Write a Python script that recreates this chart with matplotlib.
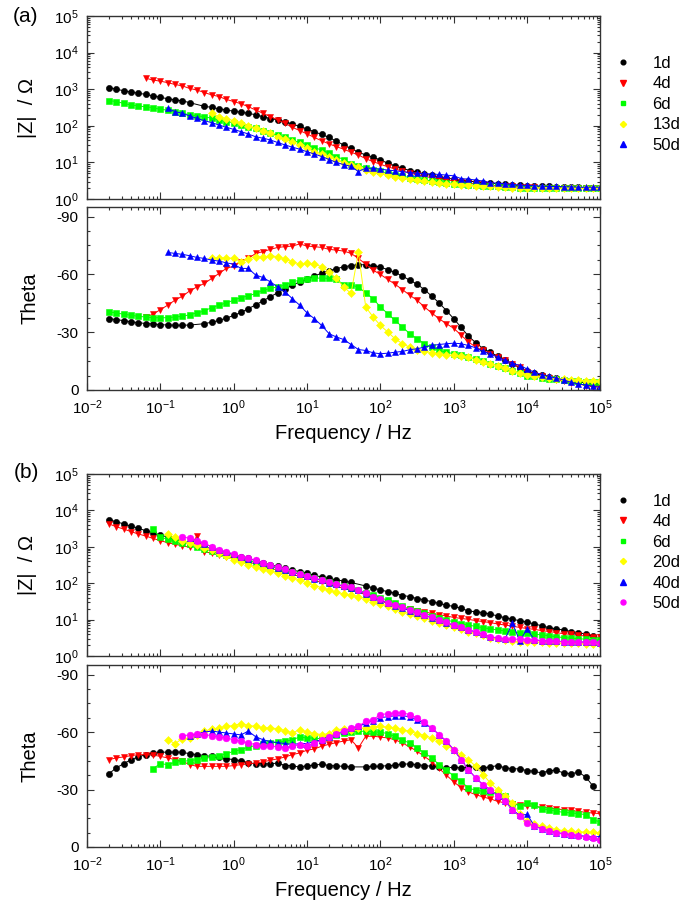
import numpy as np
import matplotlib
matplotlib.use("Agg")
import matplotlib.pyplot as plt
from matplotlib.lines import Line2D
from matplotlib.ticker import LogLocator, MultipleLocator, NullFormatter, FixedLocator

plt.rcParams['font.family'] = ['Liberation Sans', 'DejaVu Sans']
plt.rcParams['axes.unicode_minus'] = False
plt.rcParams['mathtext.fontset'] = 'custom'
plt.rcParams['mathtext.rm'] = 'Liberation Sans'

# measurement frequencies (Hz)
freq = [0.02, 0.0251, 0.0316, 0.0398, 0.0501, 0.0631, 0.0794,
        0.1, 0.126, 0.158, 0.2, 0.251, 0.316, 0.398, 0.501, 0.631, 0.794,
        1, 1.26, 1.58, 2.0, 2.51, 3.16, 3.98, 5.01, 6.31, 7.94,
        10, 12.6, 15.8, 20, 25.1, 31.6, 39.8, 50.1, 63.1, 79.4,
        100, 126, 158, 200, 251, 316, 398, 501, 631, 794,
        1000, 1260, 1580, 2000, 2510, 3160, 3980, 5010, 6310, 7940,
        1e4, 12600, 15800, 20000, 25100, 31600, 39800, 50100, 63100, 79400,
        1e5]

# ---- panel (a): |Z| in ohm ----
labels_a = ['1d', '4d', '6d', '13d', '50d']
za_1d = [1100, 1000, 910, 830, 780, 720, 660, 600, 550, 510,
         480, 430, None, 340, 320, 290, 270, 250, 235, 220,
         200, 178, 158, 145, 129, 112, 96, 82, 69, 58,
         48, 38, 30, 24, 19, 16, 13.8, 11.7, 9.5, 8.1,
         6.9, 6.0, 5.4, 4.8, 4.4, 4.0, 3.7, 3.5, 3.2, 3.1,
         2.95, 2.8, 2.7, 2.6, 2.5, 2.4, 2.35, 2.3, 2.25, 2.2,
         2.2, 2.15, 2.15, 2.1, 2.1, 2.05, 2.05, 2.05]
za_4d = [None] * 5 + [2000, 1780, 1660, 1510, 1350,
         1230, 1050, 950, 810, 700, 630, 525, 460, 400, 333,
         270, 220, 178, 145, 117, 91, 74, 60, 48, 39,
         32, 27, 23, 19, 16, 12.6, 10.5, 8.9, 7.6, 6.6,
         5.8, 5.1, 4.6, 4.2, 3.8, 3.5, 3.3, 3.1, 2.9, 2.75,
         2.6, 2.5, 2.4, 2.3, 2.25, 2.2, 2.15, 2.1, 2.1, 2.05,
         2.05, 2.0, 2.0, 2.0, 1.95, 1.95, 1.95, 1.95]
za_6d = [490, 460, 410, 370, 350, 330, 315, 280, 270, 245,
         220, 200, 186, 178, 160, 145, 129, 122, 105, 95,
         85, 74, 62, 56, 48, 41, 35, 30, 25, 22,
         17.8, 14.5, 12, 9.3, 8.2, 7.2, 6.4, 5.7, 5.1, 4.6,
         4.2, 3.85, 3.55, 3.3, 3.1, 2.95, 2.8, 2.65, 2.55, 2.45,
         2.35, 2.3, 2.25, 2.2, 2.15, 2.1, 2.05, 2.0, 2.0, 2.0,
         2.0, 2.0, 2.0, 2.0, 2.0, 2.0, 2.0, 2.0]
za_13d = [None] * 14 + [220, 178, 155, 138, 117, 100,
          85, 72, 62, 50, 43, 35, 29, 24, 19.5, 17,
          14.5, 11.7, 9.8, 8.5, 7.6, 6.4, 5.6, 5.0, 4.5, 4.1,
          3.8, 3.5, 3.3, 3.1, 2.9, 2.8, 2.65, 2.55, 2.45, 2.4,
          2.3, 2.25, 2.2, 2.15, 2.1, 2.05, 2.0, 2.0, 2.0, 2.0,
          1.95, 1.95, 1.95, 1.95, 1.95, 1.95, 1.95, 1.95]
za_50d = [None] * 8 + [300, 245,
          220, 186, 160, 138, 122, 105, 91, 80, 69, 60,
          50, 46, 41, 35, 30, 26, 23, 19.5, 17, 14.5,
          12, 10, 8.7, 7.8, 5.6, 7.0, 6.9, 6.5, 6.2, 5.9,
          5.6, 5.3, 5.0, 5.0, 4.8, 4.7, 4.5, 4.3, 3.6, 3.5,
          3.3, 3.1, 2.8, 2.7, 2.6, 2.5, 2.4, 2.35, 2.3, 2.25,
          2.2, 2.2, 2.15, 2.15, 2.1, 2.1, 2.1, 2.1]

# ---- panel (a): phase angle (deg) ----
ta_1d = [-37.0, -36.5, -36.0, -35.4, -34.9, -34.5, -34.2, -33.9, -33.7, -33.6,
         -33.6, -33.7, None, -34.4, -35.2, -36.1, -37.3, -38.7, -40.3, -42.2,
         -44.2, -46.3, -48.4, -50.5, -52.5, -54.4, -56.1, -57.7, -59.2, -60.6,
         -61.9, -63.0, -63.9, -64.6, -65.0, -65.0, -64.6, -63.8, -62.5, -61.0,
         -59.1, -57.0, -54.9, -52.1, -48.7, -45.2, -41.2, -37.0, -32.5, -28.0,
         -24.5, -21.5, -19.5, -17.5, -15.5, -13.5, -11.5, -9.8, -8.6, -7.6,
         -6.8, -6.0, -5.3, -4.7, -4.2, -3.7, -3.3, -3.0]
ta_4d = [None] * 5 + [-38.0, -39.3, -41.7, -44.0, -46.6,
         -48.7, -51.4, -53.5, -55.3, -57.9, -60.5, -63.1, -64.3, -66.6, -68.3,
         -70.9, -71.8, -73.0, -74.0, -74.4, -74.7, -75.8, -74.7, -74.4, -74.0,
         -73.0, -72.6, -72.1, -70.9, -68.3, -65.3, -62.2, -60.0, -57.4, -54.9,
         -52.1, -49.2, -46.6, -43.1, -40.0, -37.0, -34.4, -32.0, -28.5, -25.0,
         -22.2, -20.5, -18.8, -17.0, -15.3, -13.6, -11.8, -9.2, -8.0, -7.0,
         -6.1, -5.2, -4.5, -3.6, -3.1, -2.3, -1.7, -1.4]
ta_6d = [-40.5, -40.0, -39.3, -38.8, -38.2, -37.9, -37.5, -37.5, -37.5, -37.9,
         -38.2, -39.1, -40.0, -41.0, -42.8, -44.0, -45.2, -46.6, -48.0, -48.8,
         -50.1, -51.8, -52.7, -53.5, -54.4, -56.1, -57.0, -57.4, -57.9, -58.2,
         -57.9, -57.4, -54.7, -54.4, -53.5, -50.4, -47.4, -43.1, -39.6, -36.1,
         -32.7, -29.2, -26.6, -24.0, -22.2, -20.5, -19.6, -18.8, -17.9, -17.0,
         -16.2, -14.9, -13.6, -12.7, -11.5, -10.1, -8.7, -7.5, -7.0, -6.4,
         -5.9, -5.6, -5.2, -4.9, -4.5, -4.3, -4.2, -4.0]
ta_13d = [None] * 14 + [-68.3, -68.6, -68.6, -68.3, -66.6, -68.0,
          -69.2, -68.8, -69.7, -69.2, -68.0, -66.6, -65.3, -65.7, -65.3, -64.0,
          -61.3, -57.9, -53.5, -50.1, -71.4, -43.1, -37.9, -33.5, -30.1, -26.6,
          -24.0, -22.2, -20.9, -20.0, -19.3, -18.8, -18.2, -17.9, -17.6, -17.0,
          -15.6, -14.4, -13.6, -12.7, -11.5, -10.1, -8.7, -8.0, -7.3, -6.8,
          -6.3, -5.9, -5.6, -5.2, -5.0, -4.9, -4.7, -4.5]
ta_50d = [None] * 8 + [-71.4, -70.9,
          -70.4, -69.7, -68.8, -68.3, -67.4, -66.9, -66.0, -65.3, -63.1, -63.1,
          -59.6, -58.4, -56.1, -53.5, -50.9, -47.4, -44.0, -40.0, -37.0, -33.5,
          -29.2, -27.5, -26.2, -23.6, -21.0, -20.5, -19.3, -18.8, -19.1, -19.6,
          -20.0, -20.9, -21.4, -22.2, -23.1, -23.6, -24.0, -24.3, -24.0, -23.1,
          -21.9, -20.0, -18.8, -17.0, -15.3, -13.9, -12.7, -10.9, -9.2, -8.0,
          -7.0, -6.1, -5.2, -4.0, -3.1, -2.6, -1.9, -1.4]

# ---- panel (b): |Z| in ohm ----
labels_b = ['1d', '4d', '6d', '20d', '40d', '50d']
zb_1d = [5500, 4900, 4270, 3700, 3240, 2780, 2450, 2100, 1860, 1660,
         1480, 1290, 1150, 1000, 890, 780, 690, 600, 540, 480,
         420, 370, 320, 290, 257, 229, 209, 186, 166, 148,
         135, 124, 115, 105, None, 84, 75, 65, 59, 53,
         46, 43, 38, 35, 31, 28, 25, 23, 20.5, 17.3,
         16.4, 15.6, 14.2, 12.6, 11.3, 10.2, 9.4, 8.5, 7.6, 6.8,
         6.0, 5.5, 5.2, 4.7, 4.4, 4.0, 3.6, None]
zb_4d = [4270, 3550, 3090, 2620, 2250, 1990, 1700, 1480, 1300, 1170,
         1070, 970, 2000, 740, 665, 600, 540, 480, 435, 380,
         340, 295, 257, 229, 200, 174, 155, 135, 120, 105,
         93, 82, 73, 64, 60, 47, 39, 33, 28, 24,
         21, 19, 17.6, 16.3, 14.9, 13.7, 12.6, 11.5, 10.8, 10.2,
         9.4, 8.8, 8.3, 7.6, 7.1, 6.6, 6.1, 5.7, 5.4, 5.0,
         4.7, 4.4, 4.1, 3.95, 3.7, 3.55, 3.4, 3.25]
zb_6d = [None] * 6 + [3000, 1820, 1630, 1470,
         1300, 1170, 970, 850, 760, 670, 600, 535, 475, 420,
         375, 330, 290, 258, 228, 200, 176, 155, 137, 120,
         106, 94, 83, 73, 64, 55, 47, 40, 34, 29,
         23, 19.8, 17.2, 15, 12.8, 11, 9.8, 8.7, 7.8, 7.1,
         6.5, 6.0, 5.6, 5.2, 4.9, 4.6, 4.4, 4.2, 4.0, 3.8,
         3.6, 3.4, 3.2, 3.1, 3.0, 2.9, 2.8, 2.7]
zb_20d = [None] * 8 + [2200, 1820,
          1480, 1300, 1100, 930, 800, 680, 560, 435, 390, 316,
          275, 240, 220, 186, 162, 137, 124, 100, 86, 76,
          65, 56, 51, 47, 43, 37, 31, 27, 23, 19.5,
          16.6, 14.2, 12.6, 10.8, 9.4, 8.3, 7.1, 6.2, 5.4, 4.7,
          4.2, 3.8, 3.1, 2.9, 2.75, 2.6, 2.5, 2.45, 2.4, 2.4,
          2.35, 2.3, 2.3, 2.25, 2.25, 2.2, 2.2, 2.2]
zb_40d = [None] * 11 + [1750, 1500, 1230, 1000, 800, 730, 620, 530, 470,
          425, 350, 310, 270, 235, 205, 176, 155, 134, 121,
          104, 93, 82, 75, 64, 52, 42, 35, 28.5, 24,
          21, 17.8, 15.2, 13, 11.2, 9.5, 8.2, 7.0, 6.1, 5.2,
          4.6, 4.0, 3.4, 3.1, 2.95, 8.0, 2.6, 5.5, 2.75, 2.65,
          2.6, 2.55, 2.5, 2.45, 2.45, 2.4, 2.4, 2.35]
zb_50d = [None] * 10 + [1900, 1700, 1480, 1250, 1000, 810, 740, 630, 540, 480,
          435, 355, 317, 275, 240, 210, 180, 158, 137, 124,
          106, 95, 84, 77, 65, 53, 43, 36, 29.5, 25,
          22, 18.4, 15.8, 13.4, 11.6, 9.8, 8.4, 7.1, 6.2, 5.2,
          4.7, 4.0, 3.4, 3.1, 2.95, 2.9, 2.9, 2.8, 2.75, 2.65,
          2.6, 2.55, 2.5, 2.45, 2.45, 2.4, 2.4, 2.35]

# ---- panel (b): phase angle (deg) ----
tb_1d = [-38.3, -41.3, -43.5, -45.6, -47.0, -48.2, -49.1, -49.6, -49.4, -49.6,
         -49.4, -48.7, -48.2, -47.7, -47.3, -46.8, -46.1, -45.6, -45.1, -43.9,
         -43.5, -43.5, -43.3, -43.9, -42.5, -42.5, -41.6, -42.5, -42.6, -43.3,
         -42.5, -42.3, -42.1, -41.8, None, -41.8, -42.1, -42.1, -42.5, -42.6,
         -43.3, -43.3, -43.0, -42.5, -42.1, -41.8, -41.3, -41.6, -41.3, -41.8,
         -41.8, -41.3, -41.8, -42.5, -41.3, -40.9, -40.7, -39.9, -39.5, -38.6,
         -39.9, -40.0, -38.6, -38.3, -39.0, -36.6, -31.7, None]
tb_4d = [-45.6, -46.5, -47.0, -47.7, -48.2, -48.2, -48.0, -47.3, -46.5, -45.6,
         -44.7, -43.0, -42.1, -42.1, -42.1, -42.1, -42.1, -42.5, -43.0, -43.3,
         -43.9, -44.4, -45.3, -46.0, -47.0, -48.2, -49.1, -50.5, -51.2, -52.6,
         -53.6, -54.5, -55.3, -56.0, -51.7, -57.8, -57.8, -57.4, -56.9, -56.0,
         -54.3, -52.2, -50.0, -47.3, -44.5, -41.0, -37.5, -34.0, -31.0, -28.8,
         -27.3, -26.1, -25.1, -23.8, -23.0, -22.6, -22.1, -21.6, -21.2, -20.7,
         -20.4, -19.8, -19.5, -19.1, -18.6, -18.1, -17.7, -17.4]
tb_6d = [None] * 6 + [-40.9, -43.5, -43.0, -44.2,
         -44.7, -45.1, -45.6, -46.3, -46.8, -47.7, -48.6, -50.0, -50.8, -52.2,
         -52.9, -53.8, -54.3, -54.7, -55.2, -56.0, -57.4, -56.9, -56.9, -56.4,
         -57.5, -58.5, -59.5, -60.2, -60.4, -60.4, -60.1, -59.9, -59.2, -57.8,
         -55.7, -54.3, -51.7, -49.1, -46.5, -43.0, -40.4, -36.9, -34.3, -30.8,
         -29.6, -29.1, -28.5, -28.2, -26.5, -22.6, -21.6, -23.0, -22.1, -19.8,
         -19.5, -18.6, -18.1, -17.8, -17.4, -16.9, -14.3, -12.9]
tb_20d = [None] * 8 + [-56.0, -54.0,
          -56.5, -57.0, -58.7, -60.4, -61.6, -62.1, -63.0, -63.4, -64.4, -63.4,
          -63.0, -62.1, -62.1, -61.8, -60.7, -59.5, -61.3, -59.9, -59.2, -58.7,
          -59.2, -61.3, -61.6, -61.3, -62.1, -62.1, -62.7, -63.0, -62.5, -62.1,
          -61.3, -60.4, -59.2, -58.1, -56.9, -55.2, -52.9, -50.8, -48.2, -45.6,
          -42.1, -37.8, -33.4, -29.9, -26.5, -23.0, -17.0, -13.5, -11.8, -10.8,
          -9.9, -9.1, -8.5, -8.2, -8.0, -7.7, -7.6, -7.3]
tb_40d = [None] * 11 + [-58.0, -59.0, -60.0, -60.5, -60.0, -59.5, -59.0, -58.5, -60.5,
          -57.5, -56.0, -55.0, -54.5, -54.0, -53.5, -54.0, -54.0, -55.0, -56.0,
          -57.5, -59.0, -60.5, -62.0, -63.0, -64.5, -66.0, -67.5, -68.0, -68.5,
          -68.5, -68.0, -66.5, -64.5, -62.0, -58.7, -55.2, -50.8, -45.6, -40.4,
          -36.0, -32.5, -29.9, -26.5, -23.8, -19.5, -16.5, -17.0, -11.0, -9.6,
          -8.4, -7.5, -7.0, -6.5, -6.0, -5.6, -5.2, -5.5]
tb_50d = [None] * 10 + [-57.8, -58.7, -59.0, -58.7, -58.1, -57.4, -56.9, -56.0, -55.2, -54.3,
          -53.4, -52.6, -52.9, -52.2, -51.7, -52.6, -53.4, -52.9, -54.3, -55.7,
          -57.4, -59.2, -60.4, -62.1, -63.0, -65.6, -66.5, -69.1, -69.6, -70.0,
          -70.0, -69.1, -67.4, -65.1, -62.1, -58.7, -55.2, -50.8, -45.6, -40.4,
          -36.0, -32.5, -29.9, -26.5, -23.8, -19.5, -16.0, -12.5, -10.8, -9.4,
          -8.2, -7.3, -6.8, -6.1, -5.6, -5.2, -4.7, -3.8]

# marker style per series
style_a = [('o', '#000000', 4.5), ('v', '#ff0000', 5.0), ('s', '#00ff00', 4.2),
           ('D', '#ffff00', 4.2), ('^', '#0000ff', 5.0)]
style_b = [('o', '#000000', 4.5), ('v', '#ff0000', 5.0), ('s', '#00ff00', 4.2),
           ('D', '#ffff00', 4.2), ('^', '#0000ff', 5.0), ('o', '#ff00ff', 4.8)]

fig = plt.figure(figsize=(6.92, 9.05), dpi=100)
ax_za = fig.add_axes([0.1257, 0.7801, 0.7420, 0.2022])
ax_ta = fig.add_axes([0.1257, 0.5691, 0.7420, 0.2022])
ax_zb = fig.add_axes([0.1257, 0.2751, 0.7420, 0.2011])
ax_tb = fig.add_axes([0.1257, 0.0641, 0.7420, 0.2011])

f = np.array(freq)


def plot_series(ax, values, style):
    y = np.array(values, dtype=float)
    ok = ~np.isnan(y)
    m, c, ms = style
    ax.plot(f[ok], y[ok], '-', color=c, lw=0.7, marker=m, ms=ms,
            mfc=c, mec=c, mew=0.4)


def style_axes(ax):
    ax.set_xscale('log')
    ax.set_xlim(1e-2, 1e5)
    ax.xaxis.set_major_locator(LogLocator(base=10, numticks=20))
    ax.xaxis.set_minor_locator(LogLocator(base=10, subs=np.arange(2, 10), numticks=100))
    ax.xaxis.set_minor_formatter(NullFormatter())
    ax.tick_params(which='both', direction='in', top=True, right=True,
                   labelsize=11, width=0.8, color='#333333')
    ax.tick_params(which='major', length=5)
    ax.tick_params(which='minor', length=2.5)
    ax.tick_params(axis='y', pad=6)
    ax.tick_params(axis='x', pad=6)
    for s in ax.spines.values():
        s.set_linewidth(1.0)
        s.set_color('#333333')


def style_z(ax):
    style_axes(ax)
    ax.set_yscale('log')
    ax.set_ylim(1, 1e5)
    ax.yaxis.set_major_locator(LogLocator(base=10, numticks=10))
    ax.yaxis.set_minor_locator(LogLocator(base=10, subs=np.arange(2, 10), numticks=100))
    ax.yaxis.set_minor_formatter(NullFormatter())
    ax.tick_params(labelbottom=False)
    ax.set_ylabel('|Z|  / \u03a9', fontsize=14.5)
    ax.yaxis.set_label_coords(-0.097, 0.5)


def style_t(ax):
    style_axes(ax)
    ax.set_ylim(0, -95)
    ax.yaxis.set_major_locator(FixedLocator([0, -30, -60, -90]))
    ax.yaxis.set_minor_locator(MultipleLocator(7.5))
    ax.set_ylabel('Theta', fontsize=14.5)
    ax.yaxis.set_label_coords(-0.092, 0.5)
    ax.set_xlabel('Frequency / Hz', fontsize=14.5, labelpad=5)


for vals, st in zip([za_1d, za_4d, za_6d, za_13d, za_50d], style_a):
    plot_series(ax_za, vals, st)
for vals, st in zip([ta_1d, ta_4d, ta_6d, ta_13d, ta_50d], style_a):
    plot_series(ax_ta, vals, st)
for vals, st in zip([zb_1d, zb_4d, zb_6d, zb_20d, zb_40d, zb_50d], style_b):
    plot_series(ax_zb, vals, st)
for vals, st in zip([tb_1d, tb_4d, tb_6d, tb_20d, tb_40d, tb_50d], style_b):
    plot_series(ax_tb, vals, st)

style_z(ax_za)
style_z(ax_zb)
style_t(ax_ta)
style_t(ax_tb)


def add_legend(ax, labels, styles, top):
    handles = [Line2D([], [], linestyle='None', marker=m, color=c, mfc=c, mec=c,
                      ms=ms * 0.75) for m, c, ms in styles]
    ax.legend(handles, labels, loc='upper left', bbox_to_anchor=(1.004, top),
              frameon=False, fontsize=12, handlelength=1.0, handletextpad=1.3,
              labelspacing=0.33, borderaxespad=0.3)


add_legend(ax_za, labels_a, style_a, 0.846)
add_legend(ax_zb, labels_b, style_b, 0.956)

fig.text(26 / 692, 1 - 17 / 905, '(a)', ha='center', va='center', fontsize=15)
fig.text(26 / 692, 1 - 472 / 905, '(b)', ha='center', va='center', fontsize=15)

fig.savefig('out.png', dpi=100)
